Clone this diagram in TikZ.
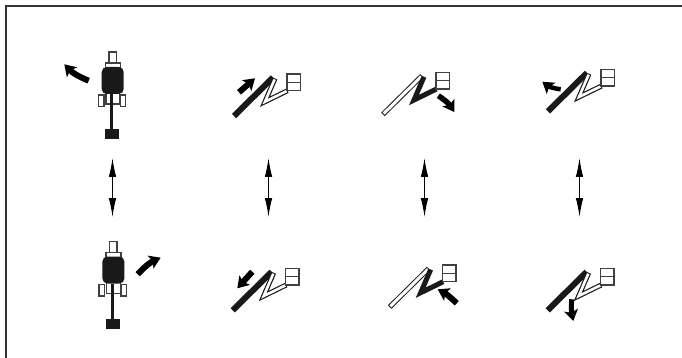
\documentclass[tikz,border=0pt]{standalone}
\usepackage{xcolor}
\usepackage{tikz}
\usetikzlibrary{arrows.meta}

\begin{document}
\begin{tikzpicture}[x=1pt, y=-1pt,
  fatarrow/.style={-{Stealth[length=11pt, width=14pt, inset=2.5pt]}},
  updown/.style={line width=1pt, {Latex[length=19pt, width=7.5pt]}-{Latex[length=19pt, width=7.5pt]}},
  blackbar/.style={line width=6pt, black!90},
  hollowouter/.style={black!90, line width=5pt, line join=miter},
  hollowinner/.style={white, line width=2.6pt, line join=miter, shorten >=1pt, shorten <=1pt},
  outline/.style={draw=black!75, line width=1.1pt, fill=white}]
\useasboundingbox (0,0) rectangle (682,358);
\draw[black!80, line width=2pt] (5.5,358) -- (5.5,6.5) -- (682,6.5);

% side views with the mower at the back
\foreach \n/\x/\y in {up/0/0,down/0.7/189.5} {
\begin{scope}[shift={(\x,\y)}]
  \draw[outline] (109,52) rectangle (116.3,63);
  \draw[outline] (105.3,63) rectangle (120.3,68);
  \draw[outline] (98.3,95) rectangle (104,106.5);
  \draw[outline] (120.3,95) rectangle (125.7,106.5);
  \draw[outline] (106,92) -- (106,104) -- (119.5,104) -- (119.5,92);
  \fill[black!90, rounded corners=5pt] (101.7,67) rectangle (123.7,94);
  \fill[black!90] (110.3,94) rectangle (113.3,130);
  \fill[black!90] (105,129) rectangle (119,139);
\end{scope}
}

% hanging bars seen from the front, box corner / bar and link looks
\foreach \n/\x/\y/\bar/\lnk in {a/287/74/1/0,b/436/72.3/0/1,c/601/69.3/1/0,
                                d/285.7/268.3/1/0,e/442.7/265/0/1,f/600.7/268.3/1/0} {
\begin{scope}[shift={(\x,\y)}]
  \coordinate (top\n) at (-14,3.5);
  \coordinate (low\n) at (-53,42);
  \coordinate (knee\n) at (-22,27.7);
  \coordinate (end\n) at (0.5,16.7);
  \ifnum\bar=1
    \draw[blackbar] (low\n) -- (top\n);
  \else
    \draw[hollowouter] (low\n) -- (top\n);
    \draw[hollowinner, line width=3pt] (low\n) -- (top\n);
  \fi
  \ifnum\lnk=1
    \draw[line width=5pt, black!90, line join=miter] (top\n) ++(2,1) -- (knee\n) -- (end\n);
  \else
    \draw[hollowouter] (top\n) ++(2,1) -- (knee\n) -- (end\n);
    \draw[hollowinner] (top\n) ++(2,1) -- (knee\n) -- (end\n);
  \fi
  \draw[outline] (0,0) rectangle (13.3,16.7);
  \draw[draw=black!75, line width=1.1pt] (0,8.3) -- (13.3,8.3);
\end{scope}
}

% movement arrows
\foreach \n/\ax/\ay/\bx/\by/\bend/\w in {a/88.7/80.7/64.3/64.3/12/6,b/239/92.3/255/78.3/0/6,
    c/438.3/95.7/454.3/112/12/5.5,d/560.7/89.3/542.3/81.7/15/4.5,e/137.7/274.3/160.7/257.7/12/6,
    f/252.3/271.7/237.3/288.3/0/6,g/456.7/303.3/437.7/289.3/-8/6,h/571.7/299.3/573.3/321/-8/5} {
  \coordinate (tail\n) at (\ax,\ay);
  \coordinate (tip\n) at (\bx,\by);
  \draw[fatarrow, line width=\w pt] (tail\n) to[bend left=\bend] (tip\n);
}

% up and down arrows between the rows
\foreach \i/\x in {1/112.5,2/268.5,3/424.5,4/579.5} {
  \coordinate (upper\i) at (\x,158);
  \coordinate (lower\i) at (\x,217);
  \draw[updown] (upper\i) -- (lower\i);
}
\end{tikzpicture}
\end{document}
